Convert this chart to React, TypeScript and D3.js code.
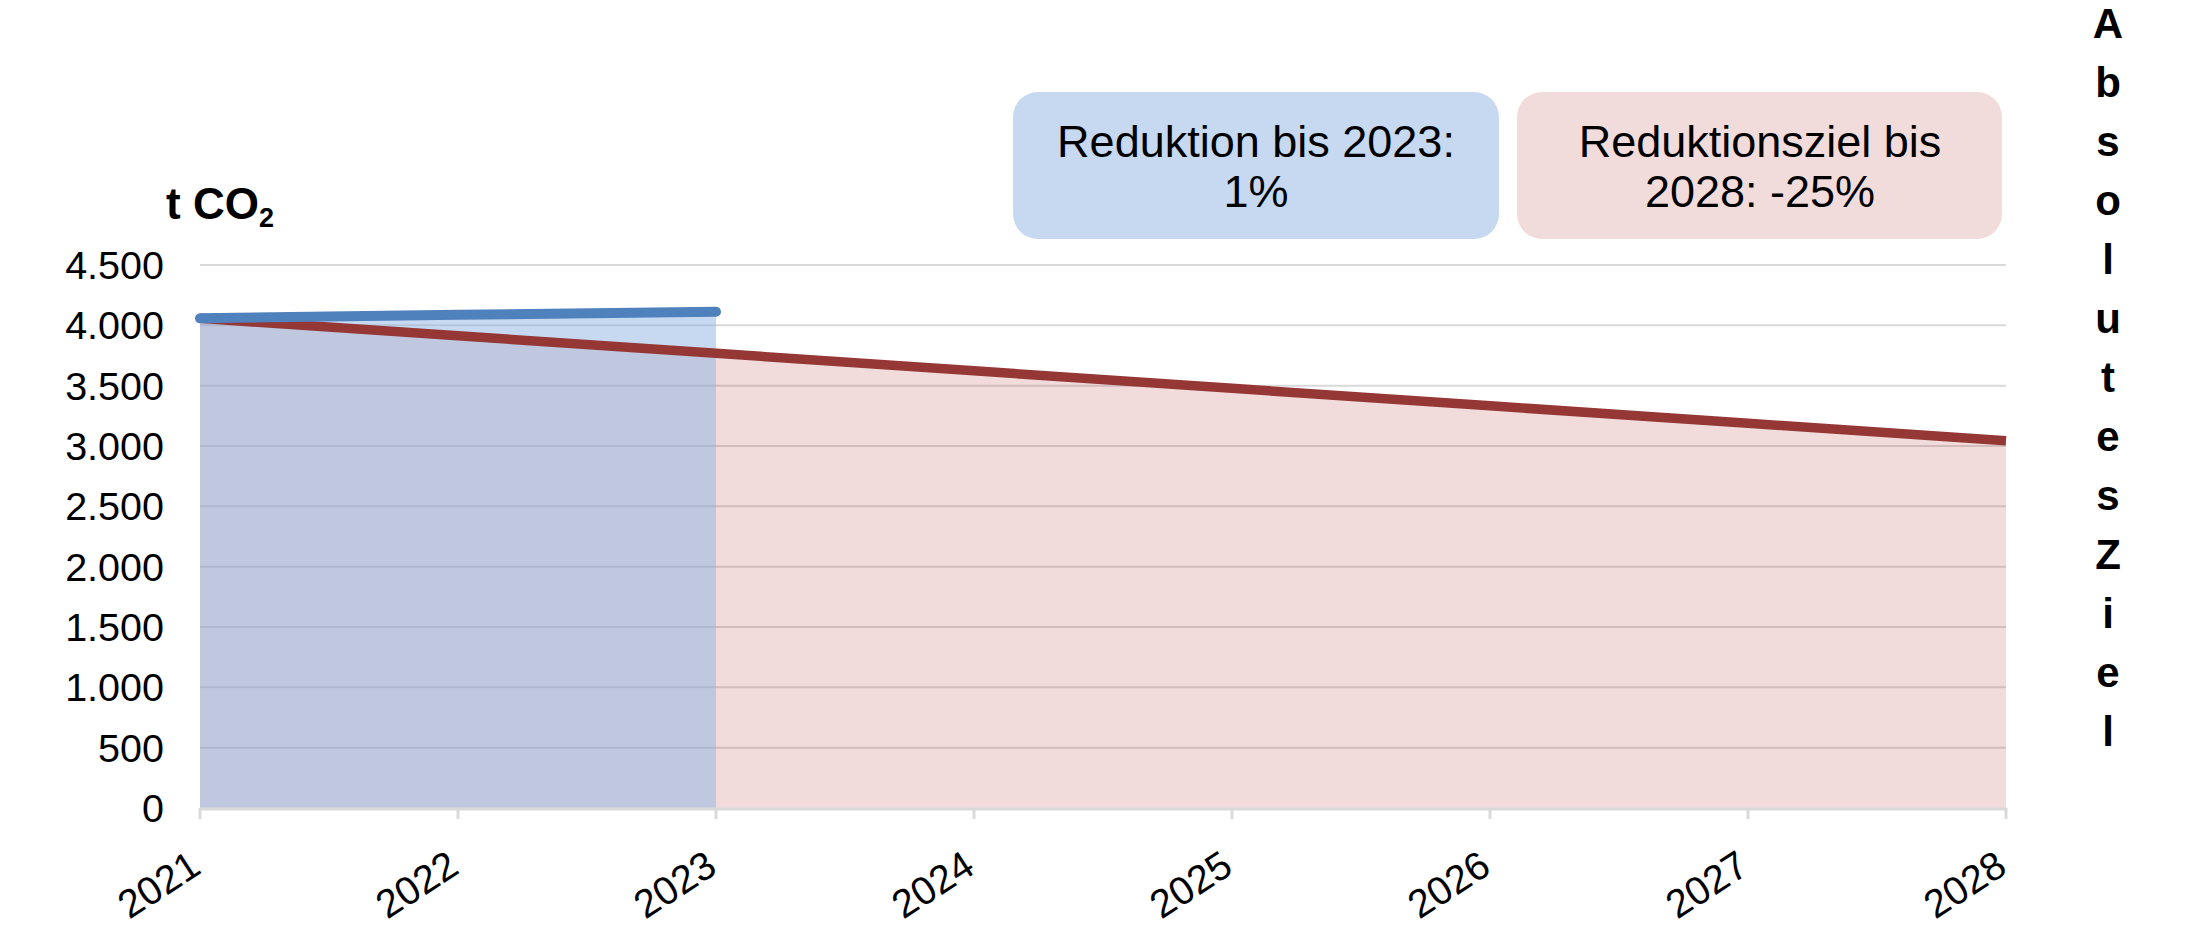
import React from "react";
import * as d3 from "d3";

const years = [2021, 2022, 2023, 2024, 2025, 2026, 2027, 2028];
const actualYears = [2021, 2022, 2023];
const actualValues = [4058, 4087, 4112];
const targetValues = [4058, 3913, 3768, 3623, 3478, 3333, 3188, 3043];
const yTicks = [0, 500, 1000, 1500, 2000, 2500, 3000, 3500, 4000, 4500];
const yUnitMain = "t CO";
const yUnitSub = "2";
const boxActual = ["Reduktion bis 2023:", "1%"];
const boxTarget = ["Reduktionsziel bis", "2028: -25%"];
const sideLabel = "Absolutes Ziel";

const W = 2197;
const H = 950;
const M = { left: 200, right: 2006, top: 265, bottom: 808 };
const FONT = "'Liberation Sans', Arial, sans-serif";

const de = d3.formatLocale({ decimal: ",", thousands: ".", grouping: [3], currency: ["", "€"] });
const fmt = de.format(",");

export default function App() {
  const x = d3.scaleLinear().domain([2021, 2028]).range([M.left, M.right]);
  const y = d3.scaleLinear().domain([0, 4500]).range([M.bottom, M.top]);

  const actual = actualYears.map((yr, i) => ({ yr, v: actualValues[i] }));
  const target = years.map((yr, i) => ({ yr, v: targetValues[i] }));

  const area = d3
    .area<{ yr: number; v: number }>()
    .x((d) => x(d.yr))
    .y0(y(0))
    .y1((d) => y(d.v));
  const line = d3
    .line<{ yr: number; v: number }>()
    .x((d) => x(d.yr))
    .y((d) => y(d.v));

  const sideChars = sideLabel.split("").filter((c) => c !== " ");
  const labY = 872;

  return (
    <svg
      width={W}
      height={H}
      style={{ position: "absolute", left: 0, top: 0, background: "#fff" }}
      fontFamily={FONT}
    >
      {/* gridlines */}
      {yTicks.filter((t) => t > 0).map((t) => (
        <line key={t} x1={M.left} x2={M.right} y1={y(t)} y2={y(t)} stroke="#d9d9d9" strokeWidth={2} />
      ))}

      {/* areas */}
      <path d={area(target) || ""} fill="#c0504d" fillOpacity={0.2} />
      <path d={area(actual) || ""} fill="#8eb4e3" fillOpacity={0.5} />

      {/* x axis */}
      <line x1={M.left} x2={M.right} y1={M.bottom + 1} y2={M.bottom + 1} stroke="#d9d9d9" strokeWidth={3} />
      {years.map((yr) => (
        <line key={yr} x1={x(yr)} x2={x(yr)} y1={M.bottom} y2={M.bottom + 11} stroke="#d9d9d9" strokeWidth={3} />
      ))}

      {/* lines */}
      <path d={line(target) || ""} fill="none" stroke="#953735" strokeWidth={9.5} />
      <path d={line(actual) || ""} fill="none" stroke="#4f81bd" strokeWidth={10} strokeLinecap="round" />

      {/* y tick labels */}
      {yTicks.map((t) => (
        <text key={t} x={164} y={y(t) + 14} textAnchor="end" fontSize={39.5} fill="#000">
          {fmt(t)}
        </text>
      ))}

      {/* x tick labels */}
      {years.map((yr) => (
        <text
          key={yr}
          x={x(yr) + 3}
          y={labY}
          textAnchor="end"
          fontSize={39.5}
          fill="#000"
          transform={`rotate(-33, ${x(yr) + 3}, ${labY})`}
        >
          {yr}
        </text>
      ))}

      {/* y unit */}
      <text x={166} y={219} fontSize={44} fontWeight="bold" fill="#000">
        {yUnitMain}
        <tspan fontSize={27} dy={8}>{yUnitSub}</tspan>
      </text>

      {/* boxes */}
      <rect x={1013} y={92} width={486} height={147} rx={25} ry={25} fill="#c6d9f1" />
      {boxActual.map((s, i) => (
        <text key={s} x={1256} y={157 + i * 50} textAnchor="middle" fontSize={45} fill="#000">
          {s}
        </text>
      ))}
      <rect x={1517} y={92} width={485} height={147} rx={25} ry={25} fill="#f2dcdb" />
      {boxTarget.map((s, i) => (
        <text key={s} x={1760} y={157 + i * 50} textAnchor="middle" fontSize={45} fill="#000">
          {s}
        </text>
      ))}

      {/* side vertical label */}
      {sideChars.map((c, i) => (
        <text key={i} x={2108} y={38 + i * 59} textAnchor="middle" fontSize={42} fontWeight="bold" fill="#000">
          {c}
        </text>
      ))}
    </svg>
  );
}
